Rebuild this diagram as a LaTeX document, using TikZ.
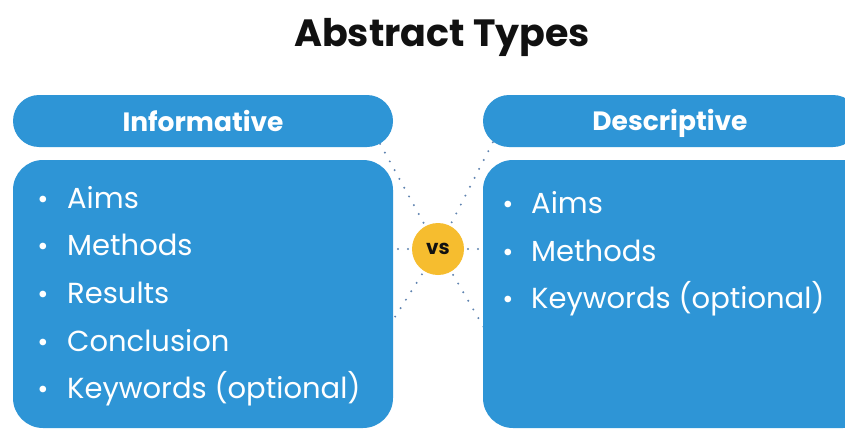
\documentclass[tikz,border=0pt]{standalone}
\usepackage{fontspec}
\setmainfont{Poppins}
\definecolor{boxblue}{HTML}{2E95D6}
\definecolor{vsyellow}{HTML}{F6BD2F}
\definecolor{dotcol}{HTML}{5F83B0}
\definecolor{titleblack}{HTML}{111111}
\tikzset{
  pill/.style={fill=boxblue, rounded corners=26pt, minimum height=52pt, text=white, inner sep=0pt,
    font=\fontsize{26.5}{29}\selectfont\bfseries},
  bodybox/.style={fill=boxblue, rounded corners=30pt, inner sep=0pt},
  item/.style={anchor=base west, text=white, inner sep=0pt, font=\fontsize{29}{32}\selectfont},
  bul/.style={anchor=base, text=white, inner sep=0pt, font=\fontsize{27}{30}\selectfont},
  dotline/.style={dotcol, line width=2.2pt, line cap=round, dash pattern=on 0pt off 10pt},
}
\begin{document}
\begin{tikzpicture}[x=1pt,y=-1pt]
\useasboundingbox (0,0) rectangle (845,428);
\fill[white] (0,0) rectangle (845,428);
% title
\node[anchor=base, inner sep=0pt, text=titleblack, font=\fontsize{38}{42}\selectfont\bfseries] (title) at (442,47) {Abstract Types};
% dotted connectors (behind)
\coordinate (c) at (438,249);
\coordinate (ul) at (378,140);
\coordinate (ur) at (494,140);
\coordinate (ll) at (388,328);
\coordinate (lr) at (490,338);
\coordinate (ml) at (392,249);
\coordinate (mr) at (484,249);
\draw[dotline] (c) -- (ul);
\draw[dotline] (c) -- (ur);
\draw[dotline] (c) -- (ll);
\draw[dotline] (c) -- (lr);
\draw[dotline] (c) -- (ml);
\draw[dotline] (c) -- (mr);
% boxes
\node[pill, minimum width=380pt] (headL) at (203,121) {Informative};
\node[pill, minimum width=376pt, text width=0pt] (headR) at (671,121) {};
\node[anchor=base, inner sep=0pt, text=white, font=\fontsize{26.5}{29}\selectfont\bfseries] (headRtext) at (670,130) {Descriptive};
\node[bodybox, minimum width=380pt, minimum height=268pt] (bodyL) at (203,294) {};
\node[bodybox, minimum width=390pt, minimum height=268pt] (bodyR) at (678,294) {};
% vs circle
\node[circle, fill=vsyellow, minimum size=52pt, inner sep=0pt, text=titleblack, font=\fontsize{20}{22}\selectfont\bfseries] (vs) at (c) {vs};
% left list
\node[bul] (bL1) at (43,208) {•};
\node[item] (iL1) at (67,208) {Aims};
\node[bul] (bL2) at (43,255) {•};
\node[item] (iL2) at (67,255) {Methods};
\node[bul] (bL3) at (43,303) {•};
\node[item] (iL3) at (67,303) {Results};
\node[bul] (bL4) at (43,351) {•};
\node[item] (iL4) at (67,351) {Conclusion};
\node[bul] (bL5) at (43,398) {•};
\node[item] (iL5) at (67,398) {Keywords (optional)};
% right list
\node[bul] (bR1) at (508,213) {•};
\node[item] (iR1) at (531,213) {Aims};
\node[bul] (bR2) at (508,261) {•};
\node[item] (iR2) at (531,261) {Methods};
\node[bul] (bR3) at (508,308) {•};
\node[item] (iR3) at (531,308) {Keywords (optional)};
\end{tikzpicture}
\end{document}
